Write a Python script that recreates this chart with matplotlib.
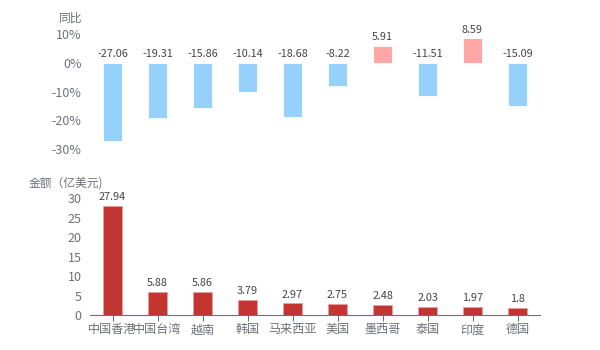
import matplotlib
matplotlib.use("Agg")
import matplotlib.pyplot as plt
import numpy as np

plt.rcParams["font.family"] = ["Noto Sans CJK SC", "DejaVu Sans"]

countries = ["中国香港", "中国台湾", "越南", "韩国", "马来西亚", "美国", "墨西哥", "泰国", "印度", "德国"]
yoy = [-27.06, -19.31, -15.86, -10.14, -18.68, -8.22, 5.91, -11.51, 8.59, -15.09]
amount = [27.94, 5.88, 5.86, 3.79, 2.97, 2.75, 2.48, 2.03, 1.97, 1.8]
amount_labels = ["27.94", "5.88", "5.86", "3.79", "2.97", "2.75", "2.48", "2.03", "1.97", "1.8"]

GREY = "#6e7079"
TXT = "#444444"
BLUE = "#96d1fd"
PINK = "#ffa6a6"
RED = "#c23531"

fig = plt.figure(figsize=(6, 3.5), dpi=100)
ax1 = fig.add_axes([0.15, 0.574, 0.75, 0.329])
ax2 = fig.add_axes([0.15, 0.100, 0.75, 0.334])

x = np.arange(len(countries))
w = 0.44

# ── top: year-on-year ────────────────────────────────────────────────────────
cols = [PINK if v > 0 else BLUE for v in yoy]
ax1.bar(x, yoy, w, color=cols, edgecolor="white", linewidth=0.6)
ax1.set_xlim(-0.5, len(countries) - 0.5)
ax1.set_ylim(-30, 10)
ax1.set_yticks([-30, -20, -10, 0, 10])
ax1.set_yticklabels([f"{t}%" for t in [-30, -20, -10, 0, 10]])
ax1.set_xticks([])
for s in ax1.spines.values():
    s.set_visible(False)
ax1.tick_params(axis="y", length=0, colors=GREY, labelsize=9, pad=6)
for xi, v in zip(x, yoy):
    ax1.text(xi, max(v, 0) + 1.2, f"{v:.2f}", ha="center", va="bottom",
             fontsize=7.8, color=TXT)
fig.text(0.137, 0.947, "同比", ha="right", va="center", fontsize=8.5, color=GREY)

# ── bottom: amount ───────────────────────────────────────────────────────────
ax2.bar(x, amount, w, color=RED, edgecolor="#e8a0a0", linewidth=0.5)
ax2.set_xlim(-0.5, len(countries) - 0.5)
ax2.set_ylim(0, 30)
ax2.set_yticks([0, 5, 10, 15, 20, 25, 30])
ax2.set_xticks(x)
ax2.set_xticklabels(countries)
for s in ["top", "right", "left"]:
    ax2.spines[s].set_visible(False)
ax2.spines["bottom"].set_color(GREY)
ax2.tick_params(axis="y", length=0, colors=GREY, labelsize=9, pad=6)
ax2.tick_params(axis="x", length=4, colors=GREY, labelsize=8.7, pad=2)
for xi, v, lab in zip(x, amount, amount_labels):
    ax2.text(xi, v + 1.0, lab, ha="center", va="bottom", fontsize=7.8, color=TXT)
fig.text(0.047, 0.477, "金额（亿美元)", ha="left", va="center", fontsize=8.5, color=GREY)

fig.savefig("out.png")
